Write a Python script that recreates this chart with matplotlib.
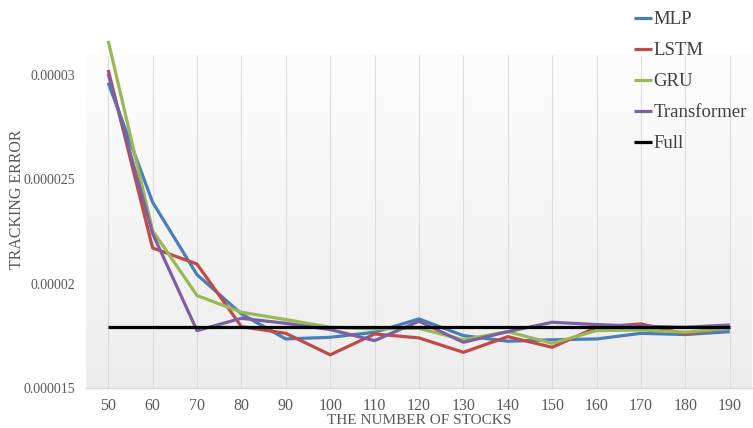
import numpy as np
import matplotlib
matplotlib.use("Agg")
import matplotlib.pyplot as plt
from matplotlib.colors import LinearSegmentedColormap

plt.rcParams['font.family'] = ['Liberation Serif', 'DejaVu Serif']

# data
stocks = [50, 60, 70, 80, 90, 100, 110, 120, 130, 140, 150, 160, 170, 180, 190]
mlp = [2.962e-5, 2.39e-5, 2.043e-5, 1.855e-5, 1.735e-5, 1.743e-5, 1.767e-5, 1.831e-5,
       1.751e-5, 1.724e-5, 1.731e-5, 1.735e-5, 1.762e-5, 1.756e-5, 1.770e-5]
lstm = [3.024e-5, 2.171e-5, 2.094e-5, 1.794e-5, 1.762e-5, 1.659e-5, 1.759e-5, 1.740e-5,
        1.671e-5, 1.746e-5, 1.695e-5, 1.791e-5, 1.807e-5, 1.759e-5, 1.788e-5]
gru = [3.163e-5, 2.254e-5, 1.943e-5, 1.863e-5, 1.828e-5, 1.791e-5, 1.783e-5, 1.786e-5,
       1.731e-5, 1.770e-5, 1.714e-5, 1.775e-5, 1.778e-5, 1.767e-5, 1.786e-5]
transformer = [3.005e-5, 2.24e-5, 1.775e-5, 1.834e-5, 1.810e-5, 1.780e-5, 1.727e-5, 1.820e-5,
               1.719e-5, 1.770e-5, 1.815e-5, 1.804e-5, 1.796e-5, 1.791e-5, 1.802e-5]
full = [1.792e-5] * len(stocks)

yticks = [0.000015, 0.00002, 0.000025, 0.00003]
ytick_labels = ["0.000015", "0.00002", "0.000025", "0.00003"]

series = [("MLP", mlp, "#4A7EBB"),
          ("LSTM", lstm, "#BE4B48"),
          ("GRU", gru, "#98B954"),
          ("Transformer", transformer, "#7D60A0"),
          ("Full", full, "#000000")]

fig = plt.figure(figsize=(7.53, 4.28), dpi=100)
ax = fig.add_axes([86 / 753, 1 - 388 / 428, (752 - 86) / 753, 388 / 428])

ymin, ymax = 1.5e-5, 3.359e-5
area_top = 3.096e-5

# plot area gradient (white at top to light grey at bottom)
cmap = LinearSegmentedColormap.from_list("bg", ["#ededed", "#fdfdfd"])
grad = np.linspace(0, 1, 256).reshape(-1, 1)
ax.imshow(grad, extent=(45, 195, ymin, area_top), aspect='auto', cmap=cmap,
          origin='lower', zorder=0)

# vertical grid lines
ax.vlines(stocks, ymin, area_top, colors="#dcdcdc", linewidth=0.8, zorder=1)

for name, vals, col in series:
    ax.plot(stocks, vals, color=col, linewidth=2.3, label=name, zorder=3,
            solid_capstyle='butt', clip_on=False)

ax.set_xlim(45, 195)
ax.set_ylim(ymin, ymax)
ax.set_facecolor("none")

for s in ["top", "right", "left"]:
    ax.spines[s].set_visible(False)
ax.spines["bottom"].set_color("#d9d9d9")
ax.spines["bottom"].set_linewidth(1.0)

ax.set_xticks(stocks)
ax.set_xticklabels([str(s) for s in stocks])
ax.set_yticks(yticks)
ax.set_yticklabels(ytick_labels)
ax.tick_params(axis='x', length=0, pad=7, labelsize=11.5, labelcolor="#595959")
ax.tick_params(axis='y', length=0, pad=8, labelsize=10, labelcolor="#595959")

fig.text(419 / 753, 1 - 420.5 / 428, "THE NUMBER OF STOCKS", ha='center', va='center',
         fontsize=11, color="#595959")
fig.text(17 / 753, 1 - 199 / 428, "TRACKING ERROR", ha='center', va='center',
         rotation=90, fontsize=11.5, color="#595959")

leg = ax.legend(loc='upper left', bbox_to_anchor=(634 / 753, 1 - 11 / 428),
                bbox_transform=fig.transFigure, frameon=False, fontsize=13.5,
                handlelength=0.95, handletextpad=0.1, labelspacing=0.74,
                borderaxespad=0, borderpad=0)
for t in leg.get_texts():
    t.set_color("#404040")

fig.savefig("out.png", dpi=100)
